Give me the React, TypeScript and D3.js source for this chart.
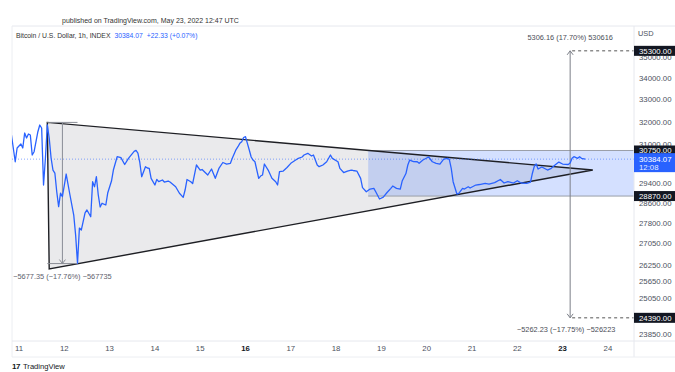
import React from 'react';
import * as d3 from 'd3';

const W = 675;
const H = 372;
const T0 = Date.UTC(2022, 4, 11);
const HOUR = 3600e3;

// hourly samples (hours since May 11 00:00 UTC) and close prices
const hours = [
  -4, -2, -1, 1, 2, 3, 4, 5, 6, 7, 8, 10, 11, 12, 13, 14, 15, 16, 17, 18, 19, 20, 21, 22, 23, 25, 27, 29, 30, 31,
  32, 33, 35, 36, 38, 39, 40, 41, 42, 43, 44, 46, 47, 49, 50, 52, 54, 56, 58, 61, 62, 63, 64, 65, 67, 68, 69, 70, 72, 73,
  74, 76, 77, 79, 80, 83, 85, 87, 88, 89, 91, 92, 94, 96, 97, 100, 102, 104, 106, 108, 110, 112, 113, 115, 116, 117, 118, 119, 120, 121,
  122, 123, 124, 125, 127, 128, 129, 130, 132, 134, 136, 137, 138, 140, 142, 144, 145, 148, 150, 151, 153, 155, 156, 158, 159, 161, 163, 165, 166, 169,
  170, 172, 174, 176, 177, 179, 181, 182, 184, 186, 188, 189, 191, 193, 195, 197, 198, 200, 202, 203, 205, 206, 207, 209, 211, 212, 214, 217, 219, 221,
  223, 225, 227, 228, 229, 230, 232, 233, 235, 236, 238, 239, 242, 244, 247, 249, 252, 255, 257, 259, 262, 264, 266, 269, 271, 272, 273, 274, 275, 277,
  280, 282, 284, 286, 288, 291, 292, 293, 294, 296, 297, 298, 300,
];
const prices = [
  31416, 30275, 30856, 31027, 30856, 31503, 31286, 31459, 31416, 30558, 30698, 31559, 31854, 31722, 29314, 30432, 31854, 31286, 30432, 29929, 29805, 29044, 28447, 28990, 28845, 29764, 28912, 28122, 27352, 26302,
  27618, 27542, 28202, 28319, 28055, 29449, 29244, 29653, 28912, 28435, 28582, 28514, 28990, 29477, 29929, 30486, 30446, 30159, 30418, 30714, 30757, 30643, 30243, 29653, 30067, 30013, 29999, 29587, 29314, 29546,
  29449, 29518, 29435, 29477, 29435, 29244, 28981, 28818, 29112, 29538, 29449, 29375, 30138, 29929, 29950, 29723, 29971, 29587, 30013, 30243, 30179, 30208, 30418, 30790, 30912, 31057, 31126, 31307, 31342, 31057,
  30770, 30474, 30346, 30275, 29587, 29681, 29723, 30179, 29929, 29587, 29449, 29314, 29859, 29888, 30034, 30208, 30261, 30418, 30474, 30558, 30630, 30515, 30558, 30138, 30067, 30138, 30275, 30558, 30418, 30275,
  29999, 29826, 29888, 29929, 29910, 29888, 29587, 29211, 29044, 29152, 29180, 29044, 28751, 28830, 29012, 29180, 29273, 29180, 29152, 29477, 29785, 30138, 30346, 30282, 30275, 30208, 30346, 30474, 30275, 30208,
  30179, 30389, 30418, 30367, 29999, 29449, 28951, 28981, 29180, 29152, 29244, 29192, 29314, 29335, 29384, 29355, 29414, 29538, 29396, 29456, 29396, 29490, 29396, 29384, 29435, 29797, 30081, 30179, 29971, 30055,
  29929, 29999, 30138, 30261, 30179, 30159, 30220, 30418, 30486, 30418, 30486, 30418, 30384.07,
];

const dayTicks = [11, 12, 13, 14, 15, 16, 17, 18, 19, 20, 21, 22, 23, 24];
const boldDays = [16, 23];
const priceTicks = [35000, 34000, 33000, 32000, 31000, 29400, 28600, 27800, 27050, 26250, 25650, 25050, 23850];
const markerPrices = [35300, 30750, 28870, 24390];
const lastPrice = 30384.07;

// triangle drawing: [hour, price]
const triangleHours = [15, 16, 304];
const trianglePrices = [31970, 26100, 29930];

const boxStartHour = 185;
const boxHigh = 30750;
const boxLow = 28870;

const leftMeasureHour = 23;
const leftMeasureFrom = 15;
const leftMeasureTo = 31;
const leftMeasureTop = 31970;
const leftMeasureBottom = 26293;
const leftMeasureLabel = '\u22125677.35 (\u221217.76%) \u2212567735';

const rightMeasureHour = 292;
const rightMeasureTop = 35300;
const rightMeasureBottom = 24390;
const rightTopLabel = '5306.16 (17.70%) 530616';
const rightBottomLabel = '\u22125262.23 (\u221217.75%) \u2212526223';

const FONT = '"Liberation Sans", Arial, sans-serif';

export default function App() {
  const x = d3
    .scaleUtc()
    .domain([new Date(T0), new Date(T0 + 13 * 24 * HOUR)])
    .range([19, 607.9]);
  const y = d3.scaleLog().domain([35000, 23850]).range([57, 334]);
  const xh = (h: number) => x(new Date(T0 + h * HOUR));

  const paneL = 12;
  const paneR = 634;
  const paneT = 26;
  const paneB = 341;

  const line = d3
    .line<number>()
    .x((_, i) => xh(hours[i]))
    .y((p) => y(p));

  const triPts = triangleHours.map((h, i) => [xh(h), y(trianglePrices[i])] as [number, number]);
  const triPath = 'M' + triPts.map((p) => p.join(',')).join('L') + 'Z';

  const bx = xh(boxStartHour);
  const byT = y(boxHigh);
  const byB = y(boxLow);

  const lmx = xh(leftMeasureHour);
  const lmT = y(leftMeasureTop);
  const lmB = y(leftMeasureBottom);
  const rmx = xh(rightMeasureHour);
  const rmT = y(rightMeasureTop);
  const rmB = y(rightMeasureBottom);

  const axisText = '#4c525e';

  return (
    <svg
      width={W}
      height={H}
      style={{ position: 'absolute', left: 0, top: 0, background: '#fff' }}
      fontFamily={FONT}
    >
      <defs>
        <clipPath id="pane">
          <rect x={paneL} y={paneT} width={paneR - paneL} height={paneB - paneT} />
        </clipPath>
      </defs>
      <rect x={0} y={0} width={W} height={H} fill="#fff" />

      {/* header */}
      <text x={62} y={23} fontSize={7} fill="#333">
        published on TradingView.com, May 23, 2022 12:47 UTC
      </text>
      <line x1={paneL} x2={W} y1={paneT} y2={paneT} stroke="#e6e8ee" />
      <line x1={paneL} x2={paneL} y1={paneT} y2={357} stroke="#eceef2" />
      <text x={16} y={37.5} fontSize={6.8} fill="#333">
        Bitcoin / U.S. Dollar, 1h, INDEX
        <tspan fill="#2962ff" dx={4}>30384.07</tspan>
        <tspan fill="#2962ff" dx={4}>+22.33 (+0.07%)</tspan>
      </text>

      <g clipPath="url(#pane)">
        {/* triangle fill */}
        <path d={triPath} fill="rgba(149,152,161,0.2)" stroke="none" />
        {/* range box */}
        <rect x={bx} y={byT} width={paneR - bx} height={byB - byT} fill="rgba(41,98,255,0.2)" />
        <line x1={bx} x2={paneR} y1={byT} y2={byT} stroke="#9a9ea8" strokeWidth={1} />
        <line x1={bx} x2={paneR} y1={byB} y2={byB} stroke="#9a9ea8" strokeWidth={1} />
        {/* triangle outline */}
        <path d={triPath} fill="none" stroke="#1e1f24" strokeWidth={1.4} strokeLinejoin="miter" />

        {/* last price dotted */}
        <line
          x1={paneL}
          x2={paneR}
          y1={y(lastPrice)}
          y2={y(lastPrice)}
          stroke="#2962ff"
          strokeOpacity={0.55}
          strokeDasharray="1 2"
          strokeWidth={1}
        />

        {/* left measure */}
        <g stroke="#8a8d96" strokeWidth={1} fill="none">
          <line x1={xh(leftMeasureFrom)} x2={xh(leftMeasureTo)} y1={lmT} y2={lmT} />
          <line x1={xh(leftMeasureFrom)} x2={xh(leftMeasureTo)} y1={lmB} y2={lmB} />
          <line x1={lmx} x2={lmx} y1={lmT} y2={lmB} />
          <path d={`M${lmx - 3},${lmB - 4}L${lmx},${lmB}L${lmx + 3},${lmB - 4}`} />
        </g>

        {/* right measure */}
        <g stroke="#7c7f88" strokeWidth={1} fill="none">
          <line x1={rmx} x2={rmx} y1={rmT} y2={rmB} />
          <path d={`M${rmx - 3},${rmT + 4}L${rmx},${rmT}L${rmx + 3},${rmT + 4}`} />
          <path d={`M${rmx - 3},${rmB - 4}L${rmx},${rmB}L${rmx + 3},${rmB - 4}`} />
          <line x1={rmx + 2} x2={paneR} y1={rmT} y2={rmT} strokeDasharray="3 3" stroke="#555" />
          <line x1={rmx + 2} x2={paneR} y1={rmB} y2={rmB} strokeDasharray="3 3" stroke="#555" />
        </g>

        {/* price line */}
        <path d={line(prices) || ''} fill="none" stroke="#2962ff" strokeWidth={1.3} strokeLinejoin="round" />
      </g>

      {/* measure labels */}
      <text x={lmx} y={279} fontSize={7.4} fill="#5d606b" textAnchor="middle">
        {leftMeasureLabel}
      </text>
      <text x={rmx} y={39.5} fontSize={7.4} fill="#4a4d56" textAnchor="middle">
        {rightTopLabel}
      </text>
      <text x={rmx - 4} y={331.5} fontSize={7.4} fill="#4a4d56" textAnchor="middle">
        {rightBottomLabel}
      </text>

      {/* price axis */}
      <line x1={paneR} x2={paneR} y1={paneT} y2={357} stroke="#e6e8ee" />
      <text x={638} y={36} fontSize={7.4} fill={axisText}>
        USD
      </text>
      {priceTicks.map((p) => (
        <text key={p} x={639} y={y(p) + 2.8} fontSize={7.8} fill={axisText}>
          {d3.format('.2f')(p)}
        </text>
      ))}
      {markerPrices.map((p) => (
        <g key={p}>
          <rect x={paneR} y={y(p) - 5} width={W - paneR} height={10} fill="#131722" />
          <text x={639} y={y(p) + 2.8} fontSize={7.8} fill="#fff">
            {d3.format('.2f')(p)}
          </text>
        </g>
      ))}
      <rect x={paneR} y={y(lastPrice) - 6} width={W - paneR} height={19} fill="#2962ff" />
      <text x={639} y={y(lastPrice) + 2.8} fontSize={7.8} fill="#fff">
        {d3.format('.2f')(lastPrice)}
      </text>
      <text x={639} y={y(lastPrice) + 11} fontSize={7.8} fill="#e6ecff">
        12:08
      </text>

      {/* time axis */}
      <line x1={paneL} x2={W} y1={paneB} y2={paneB} stroke="#e6e8ee" />
      <line x1={paneL} x2={W} y1={357} y2={357} stroke="#eceef2" />
      {dayTicks.map((d) => {
        const bold = boldDays.includes(d);
        return (
          <text
            key={d}
            x={x(new Date(Date.UTC(2022, 4, d)))}
            y={351}
            fontSize={7.8}
            fill={bold ? '#131722' : axisText}
            fontWeight={bold ? 'bold' : 'normal'}
            textAnchor="middle"
          >
            {d}
          </text>
        );
      })}

      {/* footer logo */}
      <text x={12} y={369} fontSize={8} fontWeight="bold" fill="#131722" letterSpacing={-0.5}>
        17
      </text>
      <text x={23} y={369} fontSize={7.6} fill="#131722">
        TradingView
      </text>
    </svg>
  );
}
